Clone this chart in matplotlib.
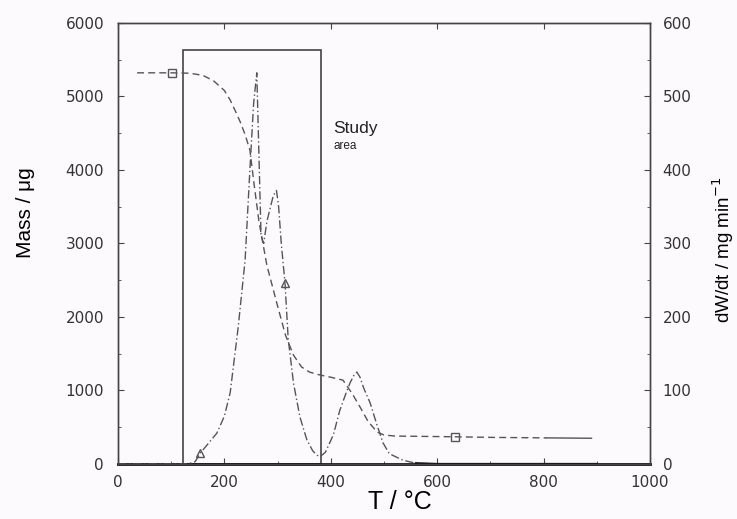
import matplotlib
matplotlib.use("Agg")
import matplotlib.pyplot as plt
from matplotlib.patches import Rectangle
from matplotlib.ticker import MultipleLocator

plt.rcParams["font.family"] = ["Liberation Sans", "DejaVu Sans"]

# TG curve (mass, left axis)
t_mass = [36, 101, 135, 160, 180, 200, 211, 222, 230, 239, 248, 256, 265, 280,
          300, 315, 330, 345, 360, 380, 400, 423, 440, 455, 470, 487, 500, 520,
          633, 700, 805, 890]
mass = [5320, 5320, 5315, 5285, 5210, 5080, 4950, 4780, 4650, 4480, 4270, 3800,
        3300, 2700, 2150, 1750, 1480, 1320, 1250, 1210, 1180, 1140, 960, 775,
        580, 435, 395, 380, 370, 362, 355, 350]

# DTG curve (right axis)
t_dtg = [0, 130, 145, 155, 170, 186, 200, 211, 226, 239, 248, 255, 261, 265,
         269, 274, 280, 292, 298, 302, 307, 314, 320, 330, 342, 355, 366, 374,
         380, 390, 405, 417, 428, 436, 443, 449, 455, 462, 474, 486, 498, 510,
         536, 560, 600, 900]
dtg = [0, 0, 3, 15, 28, 42, 65, 97, 186, 277, 400, 490, 532, 420, 310, 300,
       330, 365, 372, 350, 300, 246, 170, 110, 64, 33, 18, 12, 10, 16, 40, 73,
       95, 110, 120, 125, 118, 103, 83, 55, 29, 14, 5, 1, 0, 0]

# study area box
study_t = [122, 381]
study_mass_top = 5630

bg = "#fdfafd"
fig = plt.figure(figsize=(7.37, 5.19), dpi=100, facecolor=bg)
ax = fig.add_axes([0.160, 0.106, 0.722, 0.850])
ax.set_facecolor(bg)
ax2 = ax.twinx()

line_col = "#555555"
ax.plot(t_mass[:-1], mass[:-1], ls=(0, (5, 3)), color=line_col, lw=1.0,
        marker="s", mfc="none", ms=6, markevery=[1, 28])
ax.plot(t_mass[-2:], mass[-2:], color=line_col, lw=1.0)

ax2.plot(t_dtg, dtg, ls=(0, (6, 2, 1, 2)), color=line_col, lw=1.0,
         marker="^", mfc="none", ms=6, markevery=[3, 21])
ax2.plot(t_dtg[43:], dtg[43:], color="#111111", lw=1.6)

ax.add_patch(Rectangle((study_t[0], 0), study_t[1] - study_t[0], study_mass_top,
                       fill=False, ec="#444444", lw=1.2))

ax.text(405, 4500, "Study", fontsize=12.5, color="#222222")
ax.text(405, 4290, "area", fontsize=8.5, color="#222222")

ax.set_xlim(0, 1000)
ax.set_ylim(0, 6000)
ax2.set_ylim(0, 600)

ax.xaxis.set_major_locator(MultipleLocator(200))
ax.xaxis.set_minor_locator(MultipleLocator(100))
ax.yaxis.set_major_locator(MultipleLocator(1000))
ax.yaxis.set_minor_locator(MultipleLocator(500))
ax2.yaxis.set_major_locator(MultipleLocator(100))
ax2.yaxis.set_minor_locator(MultipleLocator(50))

for a in (ax, ax2):
    a.tick_params(which="both", direction="in", colors="#444444",
                  labelsize=11, labelcolor="#333333")
    a.tick_params(which="major", length=4)
    a.tick_params(which="minor", length=2)
    for lab in a.get_xticklabels() + a.get_yticklabels():
        lab.set_family("DejaVu Sans")
    for s in a.spines.values():
        s.set_color("#444444")
        s.set_linewidth(1.0)
ax.tick_params(axis="x", top=True, pad=8)
ax.tick_params(axis="y", pad=10)
ax2.tick_params(axis="y", pad=9)
ax.spines["bottom"].set_linewidth(2.0)
ax.spines["bottom"].set_color("#111111")

ax.set_xlabel("T / °C", fontsize=18)
ax.set_ylabel("Mass / μg", fontsize=15)
ax2.set_ylabel("dW/dt / mg min$^{-1}$", fontsize=13.5)
ax.xaxis.set_label_coords(0.53, -0.06)
ax.yaxis.set_label_coords(-0.155, 0.57)
ax2.yaxis.set_label_coords(1.113, 0.485)

fig.savefig("out.png", dpi=100, facecolor=fig.get_facecolor())
